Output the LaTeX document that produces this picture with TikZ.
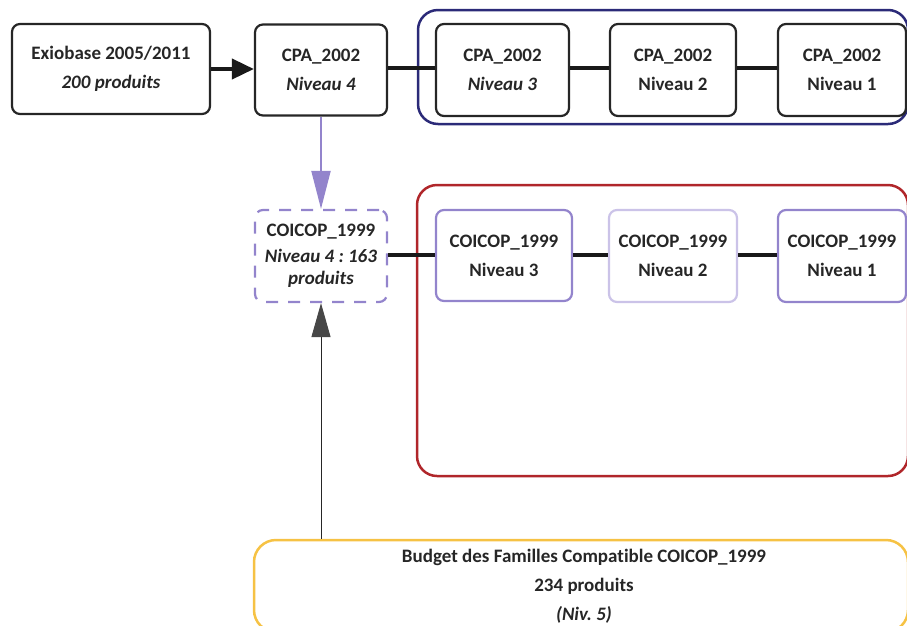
\documentclass[tikz,border=0pt]{standalone}
\usepackage{fontspec}
\setmainfont{Carlito}[Ligatures=NoCommon]
\usetikzlibrary{arrows.meta}
\frenchspacing
\definecolor{ink}{HTML}{262626}
\definecolor{lav}{HTML}{9384CC}
\definecolor{lavlight}{HTML}{CBC3E8}
\definecolor{navy}{HTML}{2B2A78}
\definecolor{dred}{HTML}{B0262A}
\definecolor{gold}{HTML}{F6C244}
\tikzset{
  every node/.style={text=ink, font=\bfseries\fontsize{19}{29}\selectfont, align=center, inner sep=0pt},
  boxa/.style={draw=ink, line width=2.2pt, rounded corners=8pt},
  boxp/.style={draw=lav, line width=2.2pt, rounded corners=8pt},
  boxq/.style={draw=lavlight, line width=2.2pt, rounded corners=8pt},
  boxd/.style={draw=lav, line width=2.2pt, rounded corners=8pt, dash pattern=on 12pt off 10pt},
  grp/.style={line width=2.5pt, rounded corners=20pt},
  link/.style={draw=black!90, line width=4.5pt},
}
\begin{document}
\begin{tikzpicture}[x=1pt,y=-1pt]
\useasboundingbox (0,0) rectangle (907,625);
\clip (0,0) rectangle (907,625);
% group frames
\node[grp, draw=navy, minimum width=490pt, minimum height=114pt] (gblue) at (663,67) {};
\node[grp, draw=dred, minimum width=491pt, minimum height=291pt] (gred) at (662.5,330.5) {};
\node[grp, draw=gold, rounded corners=22pt, minimum width=654pt, minimum height=92pt, text depth=0pt] (bud) at (581,586) {};
\node at (584,586) {Budget des Familles Compatible COICOP\_1999\\234 produits\\\textit{(Niv. 5)}};
% top row
\node[boxa, minimum width=198pt, minimum height=90pt] (exio) at (111,69) {Exiobase 2005/2011\\\textit{200 produits}};
\node[boxa, minimum width=132pt, minimum height=91pt] (cpa4) at (321,70) {CPA\_2002\\\textit{Niveau 4}};
\node[boxa, minimum width=133pt, minimum height=92pt] (cpa3) at (502.5,70) {CPA\_2002\\\textit{Niveau 3}};
\node[boxa, minimum width=126pt, minimum height=92pt] (cpa2) at (673,70) {CPA\_2002\\Niveau 2};
\node[boxa, minimum width=128pt, minimum height=92pt] (cpa1) at (842,70) {CPA\_2002\\Niveau 1};
% second row
\node[boxd, minimum width=132pt, minimum height=92pt] (c4) at (321,256) {COICOP\_1999\\[-3pt]\textit{Niveau 4 : 163}\\[-7pt]\textit{produits}};
\node[boxp, minimum width=136pt, minimum height=91pt] (c3) at (504,255.5) {COICOP\_1999\\Niveau 3};
\node[boxq, minimum width=128pt, minimum height=92pt] (c2) at (673,256) {COICOP\_1999\\Niveau 2};
\node[boxp, minimum width=128pt, minimum height=92pt] (c1) at (842,256) {COICOP\_1999\\Niveau 1};
% connectors
\draw[link, -{Triangle[length=22pt,width=20pt]}, line width=4pt] (exio.east |- 0,69) -- (cpa4.west |- 0,69);
\draw[link] (cpa4.east |- 0,68) -- (cpa3.west |- 0,68);
\draw[link] (cpa3.east |- 0,68) -- (cpa2.west |- 0,68);
\draw[link] (cpa2.east |- 0,68) -- (cpa1.west |- 0,68);
\draw[link] (c4.east |- 0,255) -- (c3.west |- 0,255);
\draw[link] (c3.east |- 0,255) -- (c2.west |- 0,255);
\draw[link] (c2.east |- 0,255) -- (c1.west |- 0,255);
\draw[lav, line width=2pt, -{Triangle[length=38pt,width=19pt]}] (cpa4.south) -- (c4.north);
\draw[ink, line width=1pt, -{Triangle[length=34pt,width=19pt,color=ink!85]}] (bud.north -| c4.south) -- (c4.south);
\end{tikzpicture}
\end{document}
